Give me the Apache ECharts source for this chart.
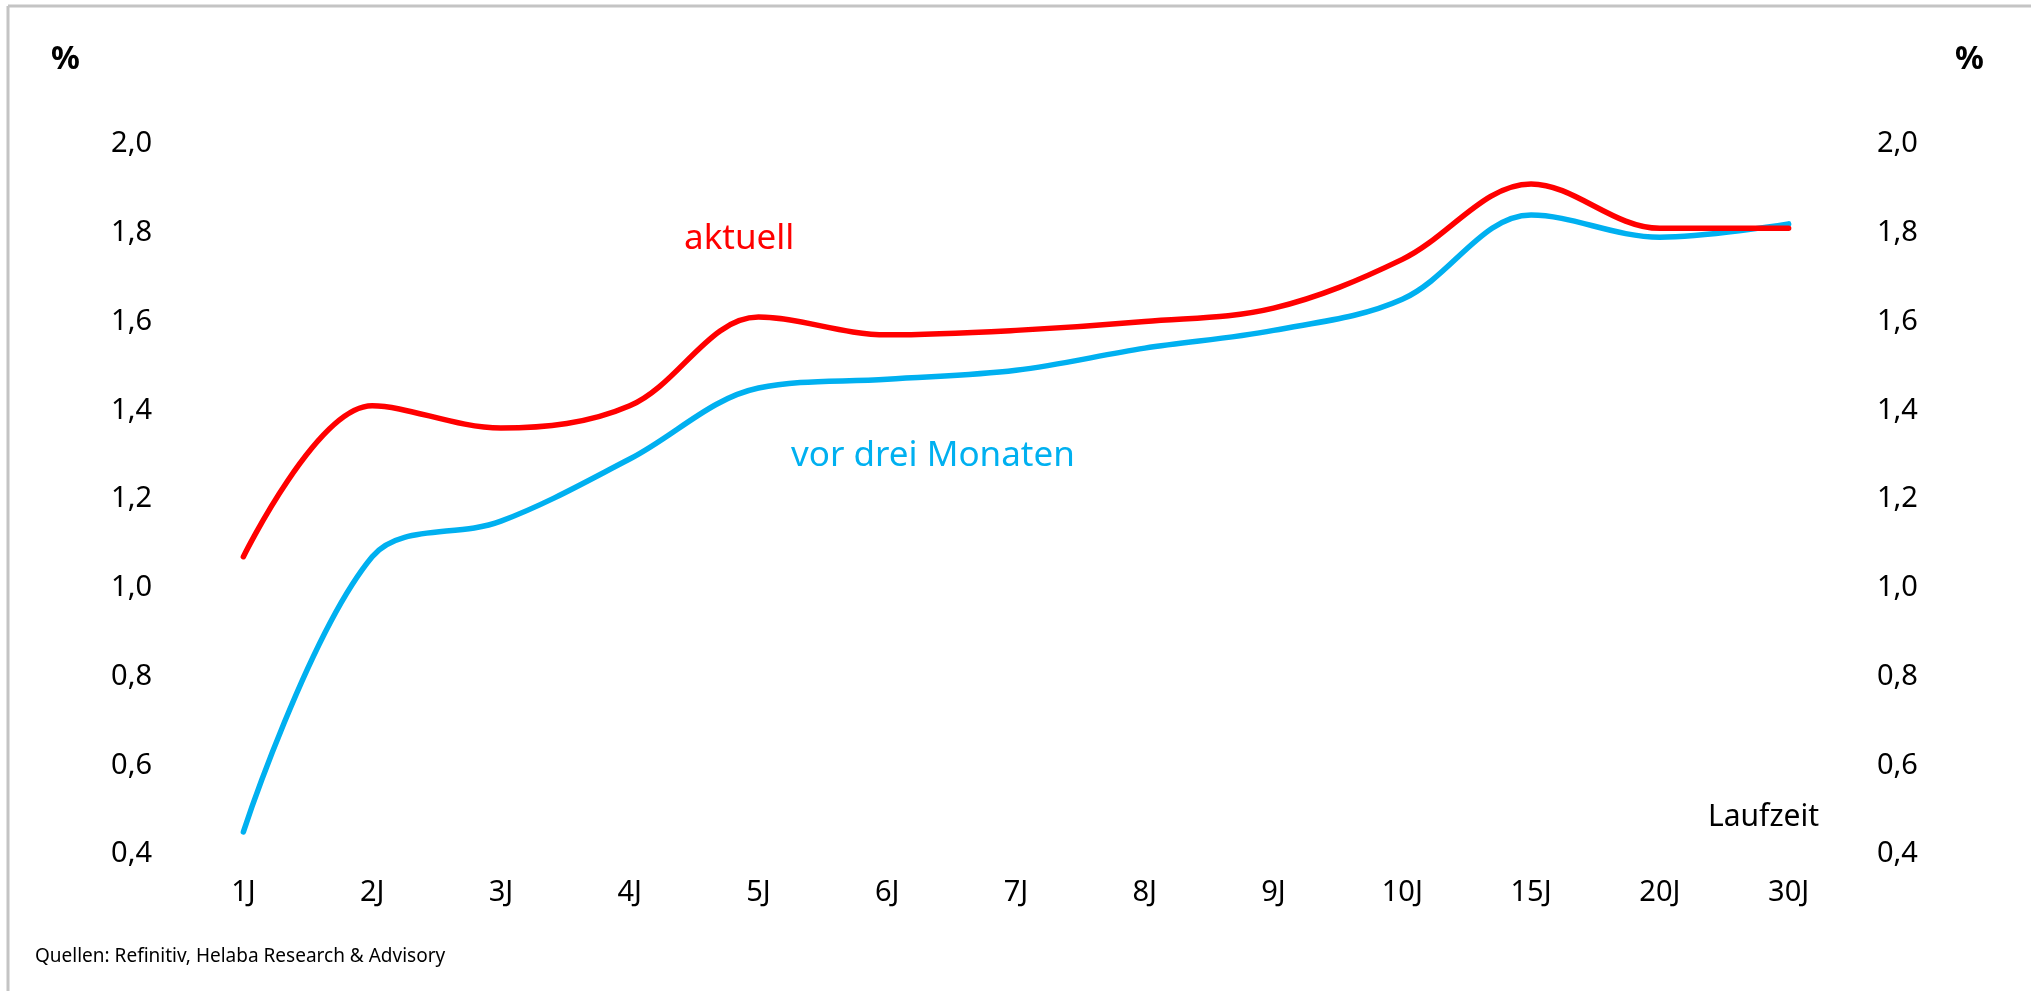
<!DOCTYPE html>
<html>
<head>
<meta charset="utf-8">
<title>Zinsstrukturkurve</title>
<script src="https://cdn.jsdelivr.net/npm/echarts@6/dist/echarts.min.js"></script>
<style>
  html, body { margin: 0; padding: 0; background: #fff; }
  #main { width: 2031px; height: 991px; }
</style>
</head>
<body>
<div id="main"></div>
<script>
// Laufzeiten und Renditen (in %)
const laufzeiten = ["1J", "2J", "3J", "4J", "5J", "6J", "7J", "8J", "9J", "10J", "15J", "20J", "30J"];
const aktuell = [1.07, 1.41, 1.36, 1.41, 1.61, 1.57, 1.58, 1.60, 1.63, 1.74, 1.91, 1.81, 1.81];
const vorDreiMonaten = [0.45, 1.07, 1.15, 1.29, 1.45, 1.47, 1.49, 1.54, 1.58, 1.65, 1.84, 1.79, 1.82];
const yMin = 0.4, yMax = 2.0, yStep = 0.2;

const font = "'Noto Sans', 'Open Sans', sans-serif";
const fmt = v => v.toFixed(1).replace(".", ",");

var myChart = echarts.init(document.getElementById("main"));

var option = {
  backgroundColor: "#fff",
  animation: false,
  grid: { left: 179, right: 178, top: 144, bottom: 137 },
  xAxis: {
    type: "category",
    data: laufzeiten,
    boundaryGap: true,
    axisLine: { show: false },
    axisTick: { show: false },
    axisLabel: { margin: 24, color: "#000", fontSize: 29, fontFamily: font }
  },
  yAxis: [
    {
      type: "value", min: yMin, max: yMax, interval: yStep,
      splitLine: { show: false }, axisLine: { show: false }, axisTick: { show: false },
      axisLabel: { margin: 27, color: "#000", fontSize: 29, fontFamily: font, formatter: fmt }
    },
    {
      type: "value", position: "right", min: yMin, max: yMax, interval: yStep,
      splitLine: { show: false }, axisLine: { show: false }, axisTick: { show: false },
      axisLabel: { margin: 24, color: "#000", fontSize: 29, fontFamily: font, formatter: fmt }
    }
  ],
  series: [
    {
      name: "vor drei Monaten", type: "line", data: vorDreiMonaten,
      smooth: 0.35, symbol: "none",
      lineStyle: { color: "#00b0f0", width: 5.5, cap: "round" }
    },
    {
      name: "aktuell", type: "line", data: aktuell,
      smooth: 0.35, symbol: "none",
      lineStyle: { color: "#ff0000", width: 5.5, cap: "round" }
    }
  ],
  graphic: [
    { type: "line", shape: { x1: 8, y1: 6, x2: 2031, y2: 6 }, style: { stroke: "#c4c4c4", lineWidth: 3 } },
    { type: "line", shape: { x1: 8, y1: 6, x2: 8, y2: 991 }, style: { stroke: "#c4c4c4", lineWidth: 3 } },
    { type: "text", left: 51, top: 44, style: { text: "%", font: "bold 32px " + font, fill: "#000" } },
    { type: "text", left: 1955, top: 44, style: { text: "%", font: "bold 32px " + font, fill: "#000" } },
    { type: "text", left: 684, top: 222, style: { text: "aktuell", font: "35px " + font, fill: "#ff0000" } },
    { type: "text", left: 791, top: 439, style: { text: "vor drei Monaten", font: "35px " + font, fill: "#00b0f0" } },
    { type: "text", left: 1708, top: 802, style: { text: "Laufzeit", font: "30px " + font, fill: "#000" } },
    { type: "text", left: 35, top: 947, style: { text: "Quellen: Refinitiv, Helaba Research & Advisory", font: "19px " + font, fill: "#000" } }
  ]
};

myChart.setOption(option);
</script>
</body>
</html>
